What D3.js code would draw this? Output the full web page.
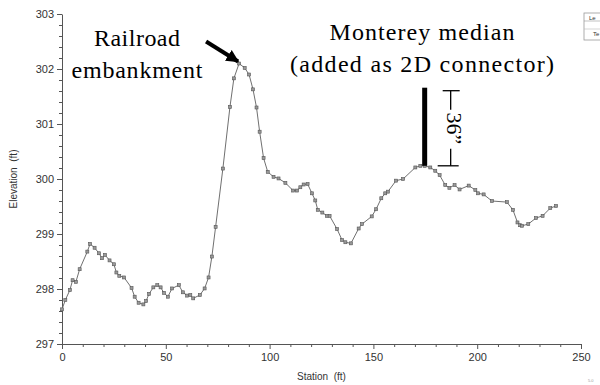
<!DOCTYPE html>
<html>
<head>
<meta charset="utf-8">
<script src="https://cdn.jsdelivr.net/npm/d3@7/dist/d3.min.js"></script>
<style>
  html, body { margin: 0; padding: 0; background: #fff; }
  svg { display: block; }
  .tick text { font-family: "Liberation Sans", Arial, sans-serif; }
</style>
</head>
<body>
<svg id="chart" width="600" height="385"></svg>
<script>
// Ground profile: station (ft) and elevation (ft)
const stations = [0, 1.6, 3.8, 5.1, 6.7, 8.5, 12.2, 13.5, 15.7, 17.8, 19.3, 20.7, 22.9, 25.0, 26.2, 27.6, 29.9,
  33.5, 35.0, 36.9, 39.2, 40.5, 41.9, 44.0, 45.9, 47.5, 49.1, 51.0, 53.0, 56.3, 58.2, 60.3, 61.8, 63.2, 66.4,
  68.7, 70.6, 72.2, 74.0, 77.5, 80.9, 82.8, 85.3, 88.0, 90.1, 92.0, 93.7, 95.2, 97.1, 99.1, 101.9, 104.3,
  107.6, 111.3, 113.2, 114.8, 116.4, 118.3, 120.4, 122.0, 123.2, 125.4, 127.6, 128.9, 132.5, 134.9, 136.5,
  139.2, 142.9, 144.5, 149.2, 151.3, 153.8, 155.7, 157.0, 160.9, 164.3, 170.2, 172.6, 174.7, 177.4, 179.8,
  181.9, 184.6, 186.6, 189.1, 191.5, 195.9, 199.1, 200.4, 203.1, 207.1, 214.3, 217.2, 219.4, 220.7, 221.6,
  224.6, 228.3, 231.5, 235.2, 238.0];
const elevations = [297.63, 297.80, 297.98, 298.16, 298.13, 298.36, 298.68, 298.82, 298.75, 298.65, 298.56,
  298.62, 298.52, 298.45, 298.30, 298.24, 298.21, 298.02, 297.86, 297.75, 297.72, 297.78, 297.91, 298.03,
  298.07, 298.03, 297.93, 297.86, 298.01, 298.07, 297.94, 297.88, 297.89, 297.83, 297.89, 298.01, 298.21,
  298.59, 299.13, 300.19, 301.31, 301.83, 302.10, 302.02, 301.90, 301.63, 301.30, 300.86, 300.38, 300.13,
  300.04, 300.01, 299.93, 299.79, 299.79, 299.85, 299.90, 299.91, 299.74, 299.61, 299.44, 299.39, 299.33,
  299.33, 299.09, 298.89, 298.85, 298.83, 299.10, 299.18, 299.32, 299.45, 299.65, 299.74, 299.77, 299.97,
  300.00, 300.21, 300.24, 300.24, 300.21, 300.15, 300.07, 299.89, 299.84, 299.89, 299.81, 299.88, 299.80,
  299.74, 299.72, 299.60, 299.58, 299.44, 299.21, 299.16, 299.15, 299.18, 299.29, 299.33, 299.47, 299.51];

// Axis ticks
const xTicks = [0, 50, 100, 150, 200, 250];
const yTicks = [297, 298, 299, 300, 301, 302, 303];

// Annotations
const railroadLabel = ["Railroad", "embankment"];
const medianLabel = ["Monterey median", "(added as 2D connector)"];
const railroadPeak = { station: 85.3, elevation: 302.10 };
const median = { station: 174.7, base: 300.24, top: 301.66 };
const medianDimLabel = "36\u201D";
const legendRows = ["Le", "Te"];

const svg = d3.select("#chart");
const margin = { left: 62, top: 14, right: 19, bottom: 41 };
const W = 600, H = 385;

const x = d3.scaleLinear().domain([0, 250]).range([margin.left, W - margin.right]);
const y = d3.scaleLinear().domain([297, 303]).range([H - margin.bottom, margin.top]);

const axisColor = "#555";
const labelFont = "'Liberation Sans', Arial, sans-serif";
const serif = "'Liberation Serif', 'Times New Roman', serif";

// Minor ticks
const xMinor = d3.range(0, 251, 10).filter(v => v % 50 !== 0);
const yMinor = d3.range(297, 303.001, 0.2).filter(v => Math.abs(v - Math.round(v)) > 1e-6);

const gx = svg.append("g").attr("transform", `translate(0,${y(297)})`);
gx.call(d3.axisBottom(x).tickValues(xTicks).tickSize(5).tickSizeOuter(0).tickPadding(4));
gx.append("g").call(d3.axisBottom(x).tickValues(xMinor).tickSize(3).tickFormat(""))
  .select(".domain").remove();

const gy = svg.append("g").attr("transform", `translate(${x(0)},0)`);
gy.call(d3.axisLeft(y).tickValues(yTicks).tickSize(5).tickSizeOuter(0).tickPadding(3).tickFormat(d3.format("d")));
gy.append("g").call(d3.axisLeft(y).tickValues(yMinor).tickSize(3).tickFormat(""))
  .select(".domain").remove();

svg.selectAll(".domain").attr("stroke", axisColor);
svg.selectAll(".tick line").attr("stroke", axisColor);
svg.selectAll(".tick text").attr("font-size", 11).attr("fill", "#333").attr("font-family", labelFont);

// Axis titles
svg.append("text")
  .attr("x", x(125)).attr("y", 380)
  .attr("text-anchor", "middle")
  .attr("font-family", labelFont).attr("font-size", 10).attr("fill", "#333")
  .attr("xml:space", "preserve")
  .text("Station  (ft)");
svg.append("text")
  .attr("transform", `translate(17,${y(300)}) rotate(-90)`)
  .attr("text-anchor", "middle")
  .attr("font-family", labelFont).attr("font-size", 10).attr("fill", "#333")
  .attr("xml:space", "preserve")
  .text("Elevation  (ft)");

// Ground line and point markers
const pts = stations.map((s, i) => [s, elevations[i]]);
svg.append("path")
  .datum(pts)
  .attr("fill", "none")
  .attr("stroke", "#707070")
  .attr("stroke-width", 1)
  .attr("d", d3.line().x(d => x(d[0])).y(d => y(d[1])));
svg.append("g").selectAll("rect")
  .data(pts).join("rect")
  .attr("x", d => x(d[0]) - 1.5).attr("y", d => y(d[1]) - 1.5)
  .attr("width", 3).attr("height", 3)
  .attr("fill", "#999").attr("stroke", "#555").attr("stroke-width", 0.6);

// Railroad annotation
const railroadWidths = [86, 131];
const rl = svg.append("text")
  .attr("font-family", serif).attr("font-size", 24).attr("fill", "#000")
  .attr("text-anchor", "middle");
rl.selectAll("tspan").data(railroadLabel).join("tspan")
  .attr("x", 137).attr("y", (d, i) => 46 + i * 32)
  .attr("textLength", (d, i) => railroadWidths[i]).attr("lengthAdjust", "spacing")
  .text(d => d);

const tipX = x(railroadPeak.station), tipY = y(railroadPeak.elevation) - 1;
svg.append("defs").append("marker")
  .attr("id", "ah").attr("viewBox", "0 0 10 10").attr("refX", 9).attr("refY", 5)
  .attr("markerWidth", 3.2).attr("markerHeight", 3.2).attr("orient", "auto")
  .append("path").attr("d", "M0,0 L10,5 L0,10 Z").attr("fill", "#000");
svg.append("line")
  .attr("x1", tipX - 33).attr("y1", tipY - 21)
  .attr("x2", tipX - 1).attr("y2", tipY - 1)
  .attr("stroke", "#000").attr("stroke-width", 4)
  .attr("marker-end", "url(#ah)");

// Monterey median annotation
const medianWidths = [185, 264];
const ml = svg.append("text")
  .attr("font-family", serif).attr("font-size", 24).attr("fill", "#000")
  .attr("text-anchor", "middle");
ml.selectAll("tspan").data(medianLabel).join("tspan")
  .attr("x", 422).attr("y", (d, i) => 40 + i * 32)
  .attr("textLength", (d, i) => medianWidths[i]).attr("lengthAdjust", "spacing")
  .text(d => d);

const mx = x(median.station);
svg.append("rect")
  .attr("x", mx - 2.5).attr("y", y(median.top))
  .attr("width", 5).attr("height", y(median.base) - y(median.top))
  .attr("fill", "#000");

// Height dimension beside the median
const dx = mx + 26;
const dTop = y(median.top) + 3, dBot = y(median.base);
const dim = svg.append("g").attr("stroke", "#000").attr("stroke-width", 1.3);
dim.append("line").attr("x1", dx - 8).attr("x2", dx + 9).attr("y1", dTop).attr("y2", dTop);
dim.append("line").attr("x1", dx).attr("x2", dx).attr("y1", dTop).attr("y2", dTop + 19);
dim.append("line").attr("x1", dx).attr("x2", dx).attr("y1", dBot - 17).attr("y2", dBot);
dim.append("line").attr("x1", dx - 13).attr("x2", dx + 8).attr("y1", dBot).attr("y2", dBot);
svg.append("text")
  .attr("transform", `translate(${dx - 4},${(dTop + dBot) / 2}) rotate(90)`)
  .attr("text-anchor", "middle")
  .attr("font-family", serif).attr("font-size", 22).attr("fill", "#000")
  .text(medianDimLabel);

// Legend box at the right edge
const lg = svg.append("g").attr("transform", "translate(584,13)");
lg.append("rect").attr("width", 30).attr("height", 27)
  .attr("fill", "#fff").attr("stroke", "#999").attr("stroke-width", 0.8);
lg.append("line").attr("x1", 0).attr("x2", 30).attr("y1", 8).attr("y2", 8).attr("stroke", "#999").attr("stroke-width", 0.6);
lg.append("line").attr("x1", 0).attr("x2", 30).attr("y1", 16).attr("y2", 16).attr("stroke", "#bbb").attr("stroke-width", 0.6);
lg.selectAll("text.row").data(legendRows).join("text")
  .attr("class", "row")
  .attr("x", (d, i) => i === 0 ? 5 : 9).attr("y", (d, i) => i === 0 ? 6.5 : 23)
  .attr("font-size", 6).attr("font-family", labelFont).attr("fill", "#333")
  .text(d => d);

svg.append("text").attr("x", 588).attr("y", 382)
  .attr("font-size", 4).attr("font-family", labelFont).attr("fill", "#999").text("5.0");
</script>
</body>
</html>
